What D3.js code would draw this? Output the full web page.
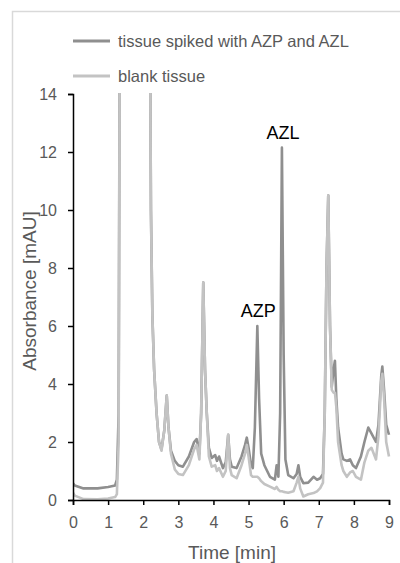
<!DOCTYPE html>
<html>
<head>
<meta charset="utf-8">
<script src="https://cdn.jsdelivr.net/npm/d3@7"></script>
<style>
  body { margin: 0; background: #fff; }
  svg { font-family: "Liberation Sans", Arial, sans-serif; }
</style>
</head>
<body>
<div id="chart"></div>
<script>
// retention time [min]
var times = [0, 0.05, 0.3, 0.7, 1.0, 1.2, 1.25, 1.3, 1.36, 1.5, 2.0, 2.18, 2.22, 2.26, 2.31, 2.38, 2.45, 2.52, 2.6, 2.67,
  2.72, 2.79, 2.9, 3.0, 3.13, 3.3, 3.45, 3.52, 3.6, 3.65, 3.71, 3.76, 3.81, 3.87, 3.95, 4.05, 4.1, 4.16, 4.27, 4.35,
  4.42, 4.47, 4.52, 4.66, 4.8, 4.9, 4.95, 5.0, 5.07, 5.12, 5.18, 5.25, 5.3, 5.36, 5.45, 5.61, 5.75, 5.8, 5.85, 5.9,
  5.95, 6.0, 6.05, 6.13, 6.28, 6.37, 6.42, 6.47, 6.56, 6.7, 6.85, 6.95, 7.04, 7.12, 7.17, 7.22, 7.27, 7.32, 7.37, 7.42,
  7.46, 7.5, 7.55, 7.65, 7.7, 7.8, 7.89, 7.97, 8.06, 8.2, 8.3, 8.41, 8.5, 8.63, 8.7, 8.78, 8.81, 8.86, 8.92, 9.0];

// tissue spiked with AZP and AZL [mAU]
var spiked = [0.58, 0.5, 0.4, 0.4, 0.45, 0.5, 0.7, 3, 30, 40, 40, 20, 10, 6.4, 4.5, 3.0, 2.0, 1.75, 2.4, 3.6,
  2.5, 1.7, 1.35, 1.2, 1.15, 1.5, 2.0, 2.1, 1.6, 3.0, 7.5, 4.5, 3.0, 1.8, 1.45, 1.55, 1.35, 1.5, 1.1, 1.3,
  2.25, 1.4, 1.15, 1.1, 1.5, 1.9, 2.15, 1.8, 1.2, 1.1, 2.5, 6.0, 3.5, 1.6, 1.2, 0.8, 0.7, 1.2, 0.8, 3,
  12.15, 5, 1.4, 0.86, 0.75, 0.9, 1.2, 0.8, 0.58, 0.6, 0.8, 0.7, 0.75, 0.9, 3, 8, 10.5, 6, 3.9, 4.5,
  4.8, 3.5, 2.5, 1.6, 1.4, 1.35, 1.4, 1.2, 1.1, 1.5, 2.0, 2.5, 2.3, 2.0, 2.6, 4.3, 4.6, 3.8, 2.6, 2.25];

// blank tissue [mAU]
var blank = [0.25, 0.15, 0.03, 0.02, 0.05, 0.1, 0.2, 2, 30, 40, 40, 20, 10, 6.4, 4.5, 3.0, 2.0, 1.7, 2.4, 3.6,
  2.5, 1.6, 1.05, 0.9, 0.86, 1.2, 1.75, 1.9, 1.4, 3.0, 7.5, 4.5, 3.0, 1.5, 1.15, 1.2, 1.0, 1.1, 0.8, 1.0,
  2.25, 1.1, 0.86, 0.75, 1.2, 1.6, 1.9, 1.5, 0.86, 0.8, 0.8, 0.8, 0.75, 0.65, 0.55, 0.46, 0.38, 0.45, 0.35, 0.3,
  0.3, 0.28, 0.27, 0.25, 0.3, 0.6, 0.8, 0.4, 0.12, 0.2, 0.24, 0.3, 0.41, 0.6, 3, 8, 10.5, 6, 3.8, 3.7,
  3.7, 3.2, 2.0, 1.2, 1.0, 0.8, 0.95, 1.0, 0.8, 0.7, 1.3, 1.7, 1.8, 1.4, 2.2, 4.1, 4.35, 3.5, 2.0, 1.5];

var xTicks = [0, 1, 2, 3, 4, 5, 6, 7, 8, 9];
var yTicks = [0, 2, 4, 6, 8, 10, 12, 14];
var seriesNames = ["tissue spiked with AZP and AZL", "blank tissue"];
var peakLabels = [{ name: "AZP", t: 5.25, v: 6.0 }, { name: "AZL", t: 5.95, v: 12.15 }];

var W = 400, H = 563;
var margin = { top: 94, right: 11, bottom: 63, left: 73 },
  width = W - margin.left - margin.right,
  height = H - margin.top - margin.bottom;

var svg = d3.select("#chart").append("svg")
  .attr("width", W)
  .attr("height", H);

// chart frame (only left and top visible)
svg.append("path")
  .attr("d", "M12.5," + H + "V11.5H" + W)
  .attr("fill", "none")
  .attr("stroke", "#d9d9d9")
  .attr("stroke-width", 1.5);

var g = svg.append("g")
  .attr("transform", "translate(" + margin.left + "," + margin.top + ")");

var x = d3.scaleLinear().domain([0, 9]).range([0, width]);
var y = d3.scaleLinear().domain([0, 14]).range([height, 0]);

g.append("clipPath").attr("id", "clip")
  .append("rect")
  .attr("x", 0).attr("y", -1)
  .attr("width", width + 2).attr("height", height + 10);

var colors = ["#8f8f8f", "#c3c3c3"];
var line = d3.line()
  .x(function(d) { return x(d[0]); })
  .y(function(d) { return y(d[1]); });

var plotData = [spiked, blank].map(function(vals) {
  return times.map(function(t, i) { return [t, vals[i]]; });
});

g.append("g").attr("clip-path", "url(#clip)")
  .selectAll("path")
  .data(plotData)
  .enter().append("path")
  .attr("d", line)
  .attr("fill", "none")
  .attr("stroke", function(d, i) { return colors[i]; })
  .attr("stroke-width", 2.6)
  .attr("stroke-linejoin", "round");

// axes
var xAxis = g.append("g")
  .attr("transform", "translate(0," + height + ")")
  .call(d3.axisBottom(x).tickValues(xTicks).tickSize(5).tickPadding(12));
var yAxis = g.append("g")
  .call(d3.axisLeft(y).tickValues(yTicks).tickSize(5).tickPadding(11));

[xAxis, yAxis].forEach(function(a) {
  a.select(".domain").attr("stroke", "#000").attr("stroke-width", 1.5);
  a.selectAll(".tick line").attr("stroke", "#000").attr("stroke-width", 1.5);
  a.selectAll(".tick text").attr("fill", "#595959").attr("font-size", "16px")
    .attr("font-family", "Liberation Sans, Arial, sans-serif");
});

// axis titles
svg.append("text")
  .attr("x", margin.left + x(4.5) + 1)
  .attr("y", 552)
  .attr("dy", "0.35em")
  .attr("text-anchor", "middle")
  .attr("fill", "#595959")
  .attr("font-size", "19px")
  .text("Time [min]");

svg.append("text")
  .attr("transform", "translate(29," + 291 + ") rotate(-90)")
  .attr("dy", "0.35em")
  .attr("text-anchor", "middle")
  .attr("fill", "#595959")
  .attr("font-size", "19px")
  .text("Absorbance [mAU]");

// peak labels
g.selectAll(".peak")
  .data(peakLabels)
  .enter().append("text")
  .attr("class", "peak")
  .attr("x", function(d) { return x(d.t) + 1; })
  .attr("y", function(d) { return y(d.v) - 9; })
  .attr("text-anchor", "middle")
  .attr("fill", "#000")
  .attr("font-size", "18px")
  .text(function(d) { return d.name; });

// legend
var legend = svg.append("g").attr("transform", "translate(73,41)");
var item = legend.selectAll("g")
  .data(seriesNames)
  .enter().append("g")
  .attr("transform", function(d, i) { return "translate(0," + (i * 35) + ")"; });
item.append("line")
  .attr("x1", 0).attr("x2", 37)
  .attr("stroke", function(d, i) { return colors[i]; })
  .attr("stroke-width", 3);
item.append("text")
  .attr("x", 45)
  .attr("dy", "0.35em")
  .attr("fill", "#595959")
  .attr("font-size", "16.5px")
  .text(function(d) { return d; });
</script>
</body>
</html>
